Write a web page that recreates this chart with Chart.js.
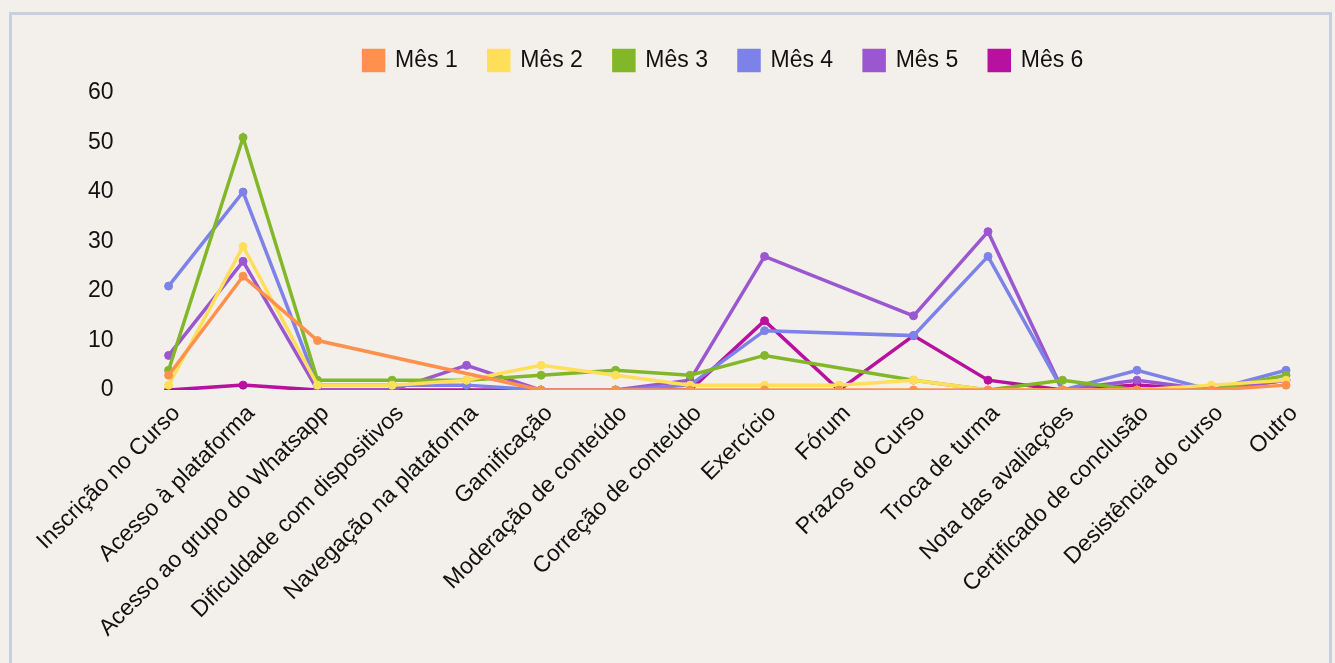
<!DOCTYPE html>
<html>
<head>
<meta charset="utf-8">
<script src="https://cdn.jsdelivr.net/npm/chart.js@4"></script>
<style>
  html, body { margin: 0; padding: 0; background: #f3f0eb; overflow: hidden; width: 1335px; height: 663px; }
  .frame { position: absolute; left: 9px; top: 12px; width: 1317px; height: 700px; border: 3px solid #c6d0e0; }
  #wrap { position: absolute; left: 0; top: 0; width: 1335px; height: 652px; }
</style>
</head>
<body>
<div class="frame"></div>
<div id="wrap"><canvas id="grafico"></canvas></div>
<script>
const categorias = [
  "Inscrição no Curso", "Acesso à plataforma", "Acesso ao grupo do Whatsapp",
  "Dificuldade com dispositivos", "Navegação na plataforma", "Gamificação",
  "Moderação de conteúdo", "Correção de conteúdo", "Exercício", "Fórum",
  "Prazos do Curso", "Troca de turma", "Nota das avaliações",
  "Certificado de conclusão", "Desistência do curso", "Outro"
];

const mes1 = [3, 23, 10, null, null, 0, 0, 0, 0, 0, 0, 0, 0, 0, 0, 1];
const mes2 = [1, 29, 1, 1, 2, 5, 3, 1, 1, 1, 2, 0, 0, 0, 1, 2];
const mes3 = [4, 51, 2, 2, 2, 3, 4, 3, 7, null, 2, 0, 2, 0, 0, 3];
const mes4 = [21, 40, 1, 1, 1, 0, 0, 1, 12, null, 11, 27, 0, 4, 0, 4];
const mes5 = [7, 26, 0, 0, 5, 0, 0, 2, 27, null, 15, 32, 0, 2, 0, 2];
const mes6 = [0, 1, 0, 0, 0, 0, 0, 0, 14, 0, 11, 2, 0, 1, 0, 2];

const yTicks = [0, 10, 20, 30, 40, 50, 60];

const cores = ["#ff914d", "#ffde59", "#82b72a", "#7d82e8", "#9b57cf", "#b8119f"];
const series = [mes1, mes2, mes3, mes4, mes5, mes6];

const datasets = series.map((valores, i) => ({
  label: "Mês " + (i + 1),
  data: valores,
  borderColor: cores[i],
  backgroundColor: cores[i],
  borderWidth: 3.5,
  pointRadius: 4,
  pointBorderWidth: 1,
  pointHoverRadius: 5,
  spanGaps: true,
  tension: 0
}));

const fonte = { family: "'Liberation Sans', Arial, sans-serif", size: 23 };

// legenda mais alta e centralizada sobre a área do gráfico
const ajusteLegenda = {
  id: "ajusteLegenda",
  beforeInit(chart) {
    const fitOriginal = chart.legend.fit;
    chart.legend.fit = function () {
      fitOriginal.bind(chart.legend)();
      this.height += 11;
    };
  },
  afterLayout(chart) {
    chart.legend.left += 64;
    chart.legend.right += 64;
  }
};

new Chart(document.getElementById("grafico").getContext("2d"), {
  type: "line",
  data: { labels: categorias, datasets: datasets },
  plugins: [ajusteLegenda],
  options: {
    responsive: true,
    maintainAspectRatio: false,
    animation: false,
    layout: { padding: { left: 33, right: 49, top: 18, bottom: 0 } },
    plugins: {
      legend: {
        position: "top",
        labels: {
          font: fonte,
          color: "#111",
          boxWidth: 20,
          boxHeight: 20,
          padding: 31
        }
      },
      tooltip: { enabled: false }
    },
    scales: {
      x: {
        grid: { display: false, drawTicks: false },
        border: { display: false },
        ticks: {
          font: fonte,
          color: "#111",
          autoSkip: false,
          maxRotation: 45,
          minRotation: 45,
          padding: 10,
          labelOffset: 8
        }
      },
      y: {
        min: 0,
        max: 60,
        afterBuildTicks: axis => { axis.ticks = yTicks.map(v => ({ value: v })); },
        grid: { display: false, drawTicks: false },
        border: { display: false },
        ticks: {
          font: fonte,
          color: "#111",
          padding: 55
        }
      }
    }
  }
});
</script>
</body>
</html>
